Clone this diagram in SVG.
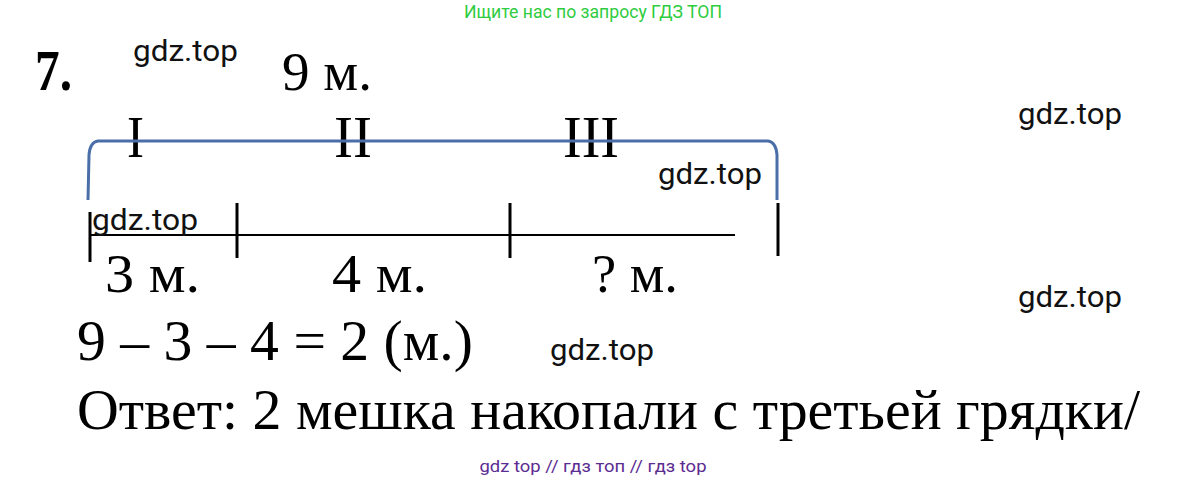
<svg xmlns="http://www.w3.org/2000/svg" width="1187" height="482" viewBox="0 0 1187 482">
<style>
.t{font-family:"Liberation Serif","Times New Roman",serif;fill:#000}
.w{font-family:Roboto,"Liberation Sans",sans-serif;font-size:29px;fill:#111}
.tick{stroke:#000;stroke-width:3}
</style>
<rect width="1187" height="482" fill="#fff"/>
<text x="593" y="18" text-anchor="middle" font-family="Roboto,'Liberation Sans',sans-serif" font-size="18" fill="#2ecc40" textLength="258" lengthAdjust="spacingAndGlyphs">Ищите нас по запросу ГДЗ ТОП</text>
<g id="title">
<text class="t" x="35" y="90" font-size="58" font-weight="bold" textLength="37" lengthAdjust="spacingAndGlyphs">7.</text>
<text class="t" x="282" y="90" font-size="55" textLength="90" lengthAdjust="spacingAndGlyphs">9 м.</text>
</g>
<g id="numerals">
<text class="t" x="127" y="157" font-size="59" textLength="17" lengthAdjust="spacingAndGlyphs">I</text>
<text class="t" x="334" y="157" font-size="59" textLength="38" lengthAdjust="spacingAndGlyphs">II</text>
<text class="t" x="563" y="157" font-size="59" textLength="56" lengthAdjust="spacingAndGlyphs">III</text>
</g>
<g id="connectors">
<path d="M88,200 L89,155 Q90,142 98,141 L768,141 Q776,142 777,155 L777,200" fill="none" stroke="#4a6ea8" stroke-width="3"/>
<line x1="89" y1="235" x2="735" y2="235" stroke="#000" stroke-width="2"/>
<line class="tick" x1="90" y1="212" x2="90" y2="262"/>
<line class="tick" x1="237" y1="203" x2="237" y2="258"/>
<line class="tick" x1="510" y1="203" x2="510" y2="258"/>
<line class="tick" x1="778" y1="203" x2="778" y2="256"/>
</g>
<g id="segments">
<text class="t" x="105" y="292" font-size="55" textLength="95" lengthAdjust="spacingAndGlyphs">3 м.</text>
<text class="t" x="332" y="292" font-size="55" textLength="95" lengthAdjust="spacingAndGlyphs">4 м.</text>
<text class="t" x="592" y="292" font-size="55" textLength="86" lengthAdjust="spacingAndGlyphs">? м.</text>
</g>
<g id="solution">
<text class="t" x="77" y="360" font-size="56" textLength="396" lengthAdjust="spacingAndGlyphs">9 – 3 – 4 = 2 (м.)</text>
<text class="t" x="77" y="429" font-size="58" textLength="1063" lengthAdjust="spacingAndGlyphs">Ответ: 2 мешка накопали с третьей грядки/</text>
</g>
<g id="watermarks">
<text class="w" x="133" y="61" textLength="105" lengthAdjust="spacingAndGlyphs">gdz.top</text>
<text class="w" x="1018" y="124" textLength="104" lengthAdjust="spacingAndGlyphs">gdz.top</text>
<text class="w" x="658" y="184" textLength="104" lengthAdjust="spacingAndGlyphs">gdz.top</text>
<text class="w" x="92" y="230" textLength="106" lengthAdjust="spacingAndGlyphs">gdz.top</text>
<text class="w" x="1018" y="307" textLength="104" lengthAdjust="spacingAndGlyphs">gdz.top</text>
<text class="w" x="550" y="360" textLength="104" lengthAdjust="spacingAndGlyphs">gdz.top</text>
</g>
<text x="593" y="472" text-anchor="middle" font-family="Roboto,'Liberation Sans',sans-serif" font-size="17" fill="#5b2c91" textLength="227" lengthAdjust="spacingAndGlyphs">gdz top // гдз топ // гдз top</text>
</svg>
